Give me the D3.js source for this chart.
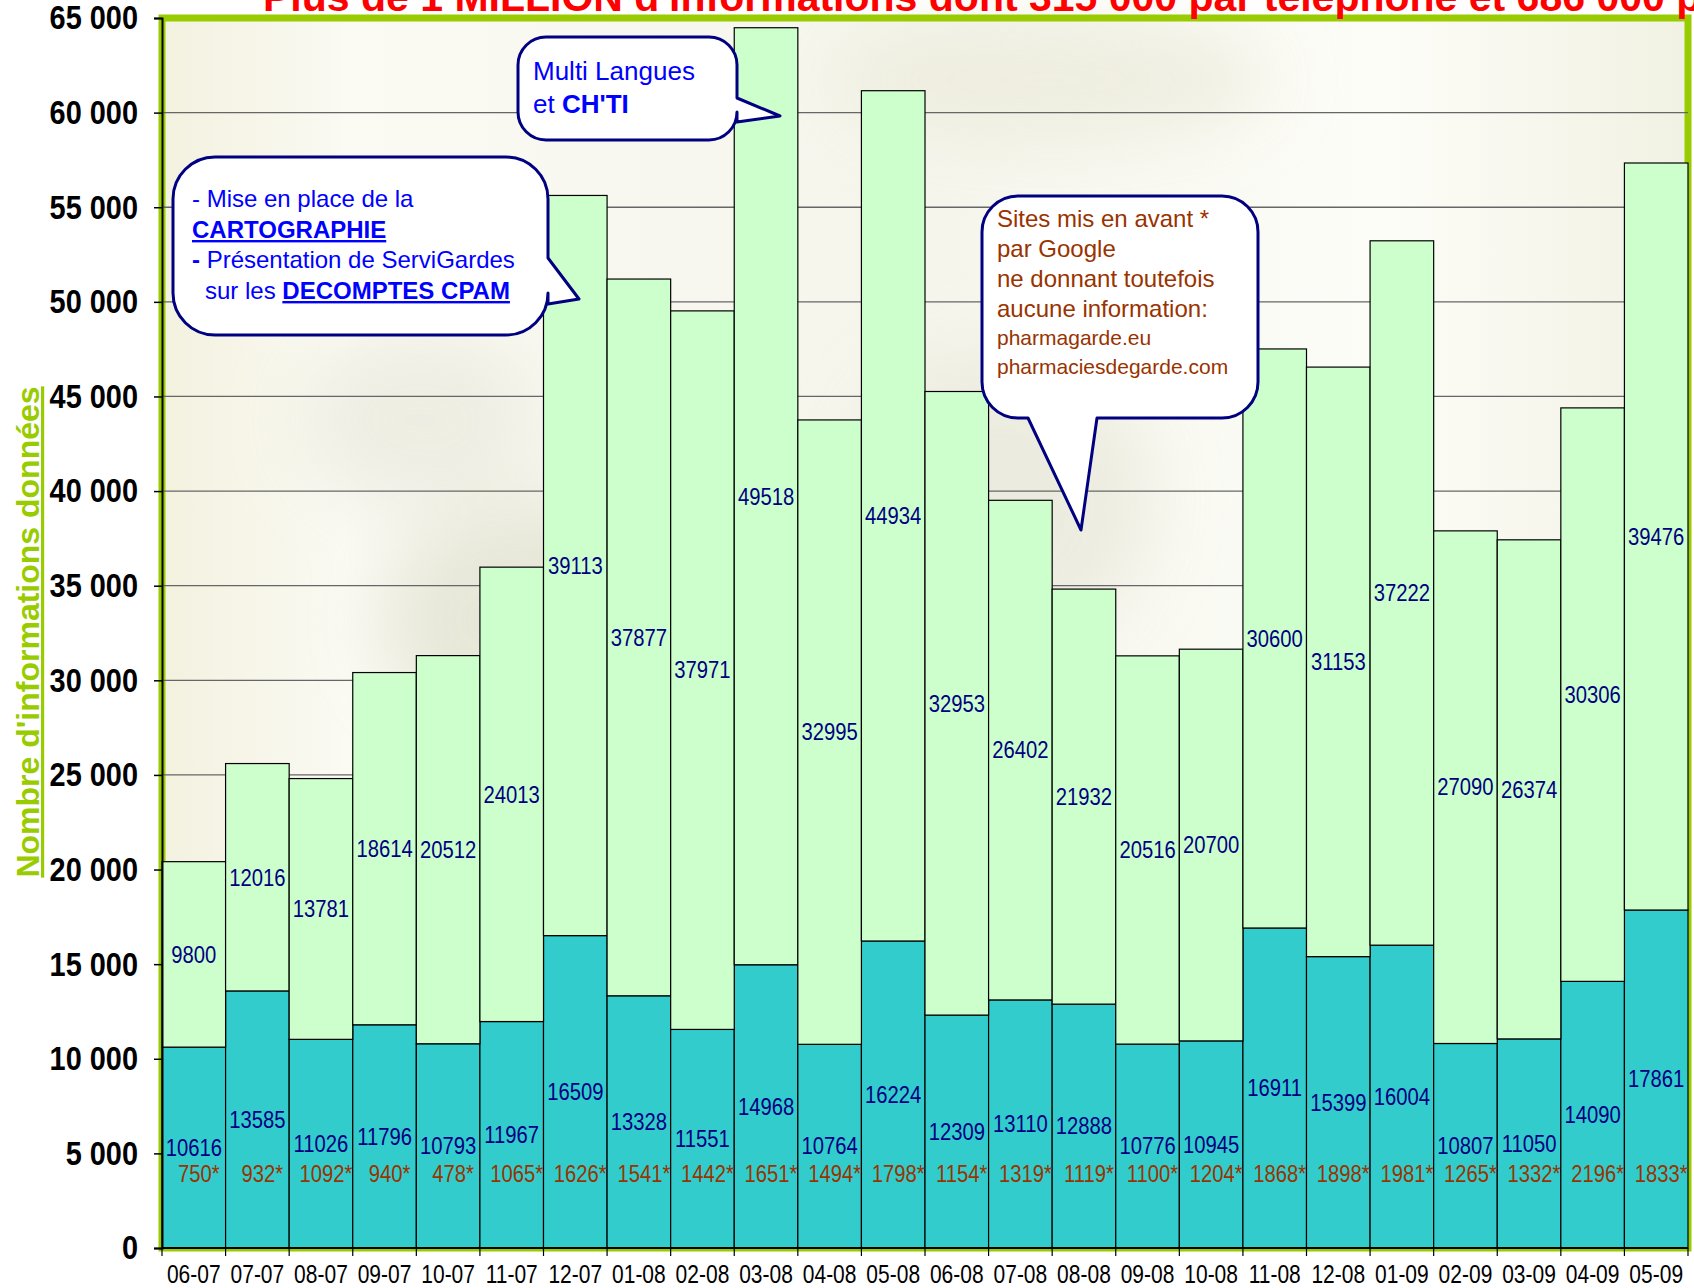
<!DOCTYPE html>
<html>
<head>
<meta charset="utf-8">
<script src="https://cdn.jsdelivr.net/npm/d3@7"></script>
<style>
body{margin:0;background:#fff;overflow:hidden}
svg{display:block;font-family:"Liberation Sans",Arial,sans-serif}
</style>
</head>
<body>
<script>
// données mensuelles
const mois = ["06-07","07-07","08-07","09-07","10-07","11-07","12-07","01-08","02-08","03-08","04-08","05-08",
              "06-08","07-08","08-08","09-08","10-08","11-08","12-08","01-09","02-09","03-09","04-09","05-09"]
const telephone = [10616,13585,11026,11796,10793,11967,16509,13328,11551,14968,10764,16224,
                   12309,13110,12888,10776,10945,16911,15399,16004,10807,11050,14090,17861]
const internet = [9800,12016,13781,18614,20512,24013,39113,37877,37971,49518,32995,44934,
                  32953,26402,21932,20516,20700,30600,31153,37222,27090,26374,30306,39476]
const sitesGoogle = [750,932,1092,940,478,1065,1626,1541,1442,1651,1494,1798,
                     1154,1319,1119,1100,1204,1868,1898,1981,1265,1332,2196,1833]
const yTicks = [0,5000,10000,15000,20000,25000,30000,35000,40000,45000,50000,55000,60000,65000]

const width = 1694, height = 1288
const x0 = 162, x1 = 1688, yBas = 1248, yHaut = 18
const serre = 0.88 // texte un peu étroit comme dans l'original

const svg = d3.select("body").append("svg")
  .attr("width", width).attr("height", height)

const fr = d3.formatLocale({decimal: ",", thousands: "\u00a0", grouping: [3], currency: ["", "€"]})
const fmt = fr.format(",")

const xScale = d3.scaleBand().domain(mois).range([x0, x1]).padding(0)
const yScale = d3.scaleLinear().domain([0, 65000]).range([yBas, yHaut])

// fond de la zone de tracé
const defs = svg.append("defs")
const lg = defs.append("linearGradient").attr("id", "fond")
lg.append("stop").attr("offset", "0").attr("stop-color", "#f3f1df")
lg.append("stop").attr("offset", "0.12").attr("stop-color", "#fbfaf3")
lg.append("stop").attr("offset", "0.5").attr("stop-color", "#f5f5ec")
lg.append("stop").attr("offset", "0.8").attr("stop-color", "#fdfdf8")
lg.append("stop").attr("offset", "1").attr("stop-color", "#f1f1e3")
defs.append("filter").attr("id", "flou").append("feGaussianBlur").attr("stdDeviation", 35)

svg.append("rect").attr("x", x0).attr("y", yHaut).attr("width", x1 - x0).attr("height", yBas - yHaut)
  .attr("fill", "url(#fond)")
const taches = svg.append("g").attr("filter", "url(#flou)").attr("opacity", 0.8)
taches.append("ellipse").attr("cx", 560).attr("cy", 620).attr("rx", 180).attr("ry", 120).attr("fill", "#e3e3d3")
taches.append("ellipse").attr("cx", 420).attr("cy", 420).attr("rx", 120).attr("ry", 90).attr("fill", "#ebebe0")
taches.append("ellipse").attr("cx", 1000).attr("cy", 500).attr("rx", 150).attr("ry", 150).attr("fill", "#e9e9dc")
taches.append("ellipse").attr("cx", 1050).attr("cy", 80).attr("rx", 220).attr("ry", 60).attr("fill", "#ecebdc")

// cadre vert
svg.append("rect").attr("x", x0).attr("y", yHaut).attr("width", x1 - x0).attr("height", yBas - yHaut)
  .attr("fill", "none").attr("stroke", "#99cc00").attr("stroke-width", 7)

// grille
svg.append("g").selectAll("line").data(yTicks.slice(1, -1)).enter().append("line")
  .attr("x1", x0).attr("x2", x1)
  .attr("y1", d => yScale(d)).attr("y2", d => yScale(d))
  .attr("stroke", "#666").attr("stroke-width", 1.3)

// barres empilées
const table = mois.map((m, i) => ({mois: m, telephone: telephone[i], internet: internet[i]}))
const series = d3.stack().keys(["telephone", "internet"])(table)
const couleurs = {telephone: "#33cccc", internet: "#ccffcc"}

svg.append("g").selectAll("g").data(series).enter().append("g")
  .attr("fill", d => couleurs[d.key])
  .selectAll("rect").data(d => d).enter().append("rect")
  .attr("x", d => xScale(d.data.mois))
  .attr("width", xScale.bandwidth())
  .attr("y", d => yScale(d[1]))
  .attr("height", d => yScale(d[0]) - yScale(d[1]))
  .attr("stroke", "#000").attr("stroke-width", 1.2)

// étiquettes des valeurs
const etiq = svg.append("g").attr("font-size", 23).attr("fill", "#000080").attr("text-anchor", "middle")
series.forEach(s => {
  etiq.append("g").selectAll("text").data(s).enter().append("text")
    .attr("transform", d => "translate(" + (xScale(d.data.mois) + xScale.bandwidth() / 2) + ","
      + yScale((d[0] + d[1]) / 2) + ") scale(" + serre + ",1)")
    .attr("dy", "0.36em")
    .text(d => d[1] - d[0])
})

svg.append("g").attr("font-size", 23).attr("fill", "#993300").attr("text-anchor", "middle")
  .selectAll("text").data(sitesGoogle).enter().append("text")
  .attr("transform", (d, i) => "translate(" + (xScale(mois[i]) + xScale.bandwidth() / 2 + 5) + ","
    + yScale(3900) + ") scale(" + serre + ",1)")
  .attr("dy", "0.36em")
  .text(d => d + "*")

// axes
const axeY = svg.append("g").attr("transform", "translate(" + x0 + ",0)")
  .call(d3.axisLeft(yScale).tickValues(yTicks).tickFormat(fmt).tickSize(8).tickPadding(16))
axeY.select(".domain").attr("stroke", "#000").attr("stroke-width", 2)
axeY.selectAll(".tick line").attr("stroke", "#000").attr("stroke-width", 1.5)
axeY.selectAll("text").attr("font-size", 34).attr("font-weight", "bold").attr("fill", "#000")
  .attr("font-family", "'Liberation Sans',Arial,sans-serif")
  .attr("x", -24 / 0.85).attr("transform", "scale(0.85,1)")

const axeX = svg.append("g").attr("transform", "translate(0," + yBas + ")")
axeX.append("line").attr("x1", x0).attr("x2", x1).attr("stroke", "#000").attr("stroke-width", 2)
axeX.selectAll(".tk").data(mois.concat(["fin"])).enter().append("line")
  .attr("x1", (d, i) => i < mois.length ? xScale(d) : x1)
  .attr("x2", (d, i) => i < mois.length ? xScale(d) : x1)
  .attr("y1", 0).attr("y2", 8).attr("stroke", "#000").attr("stroke-width", 1.2)
axeX.selectAll("text").data(mois).enter().append("text")
  .attr("transform", d => "translate(" + (xScale(d) + xScale.bandwidth() / 2) + ",35) scale(0.84,1)")
  .attr("text-anchor", "middle").attr("font-size", 25).attr("fill", "#000")
  .text(d => d)

// titre de l'axe
svg.append("text")
  .attr("transform", "translate(39,632) rotate(-90)")
  .attr("text-anchor", "middle").attr("font-size", 32).attr("font-weight", "bold")
  .attr("fill", "#99cc00").style("text-decoration", "underline")
  .text("Nombre d'informations données")

// titre (coupé en haut)
svg.append("text").attr("x", 263).attr("y", 11)
  .attr("font-size", 41).attr("font-weight", "bold").attr("fill", "#ff0000")
  .text("Plus de 1 MILLION d'informations dont 315 000 par téléphone et 686 000 par Internet")

// bulles
function bulle(x, y, w, h, r, cote, a, b, pointe) {
  let p = "M" + (x + r) + "," + y + "H" + (x + w - r) + "A" + r + "," + r + " 0 0 1 " + (x + w) + "," + (y + r)
  if (cote == "droite") p += "V" + a + "L" + pointe[0] + "," + pointe[1] + "L" + (x + w) + "," + b
  p += "V" + (y + h - r) + "A" + r + "," + r + " 0 0 1 " + (x + w - r) + "," + (y + h)
  if (cote == "bas") p += "H" + b + "L" + pointe[0] + "," + pointe[1] + "L" + a + "," + (y + h)
  p += "H" + (x + r) + "A" + r + "," + r + " 0 0 1 " + x + "," + (y + h - r)
  p += "V" + (y + r) + "A" + r + "," + r + " 0 0 1 " + (x + r) + "," + y + "Z"
  svg.append("path").attr("d", p).attr("fill", "#fff").attr("stroke", "#000080").attr("stroke-width", 3)
    .attr("stroke-linejoin", "round")
}

bulle(518, 37, 219, 103, 28, "droite", 98, 122, [780, 116])
bulle(173, 157, 375, 178, 42, "droite", 258, 304, [579, 299])
bulle(982, 196, 276, 222, 36, "bas", 1028, 1097, [1081, 530])

const t1 = svg.append("g").attr("fill", "#0000ff").attr("font-size", 26)
t1.append("text").attr("x", 533).attr("y", 80).text("Multi Langues")
const l2 = t1.append("text").attr("x", 533).attr("y", 113)
l2.append("tspan").text("et ")
l2.append("tspan").attr("font-weight", "bold").text("CH'TI")

const t2 = svg.append("g").attr("fill", "#0000ff").attr("font-size", 24)
t2.append("text").attr("x", 192).attr("y", 207).text("- Mise en place de la")
t2.append("text").attr("x", 192).attr("y", 238).attr("font-weight", "bold")
  .style("text-decoration", "underline").text("CARTOGRAPHIE")
const l3 = t2.append("text").attr("x", 192).attr("y", 268)
l3.append("tspan").attr("font-weight", "bold").text("-")
l3.append("tspan").text(" Présentation de ServiGardes")
const l4 = t2.append("text").attr("x", 205).attr("y", 299)
l4.append("tspan").text("sur les ")
l4.append("tspan").attr("font-weight", "bold").style("text-decoration", "underline").text("DECOMPTES CPAM")

const t3 = svg.append("g").attr("fill", "#993300")
const lignes = ["Sites mis en avant *", "par Google", "ne donnant toutefois", "aucune information:"]
lignes.forEach((l, i) => {
  t3.append("text").attr("x", 997).attr("y", 227 + i * 30).attr("font-size", 24).text(l)
})
t3.append("text").attr("x", 997).attr("y", 345).attr("font-size", 21).text("pharmagarde.eu")
t3.append("text").attr("x", 997).attr("y", 374).attr("font-size", 21).text("pharmaciesdegarde.com")
</script>
</body>
</html>
